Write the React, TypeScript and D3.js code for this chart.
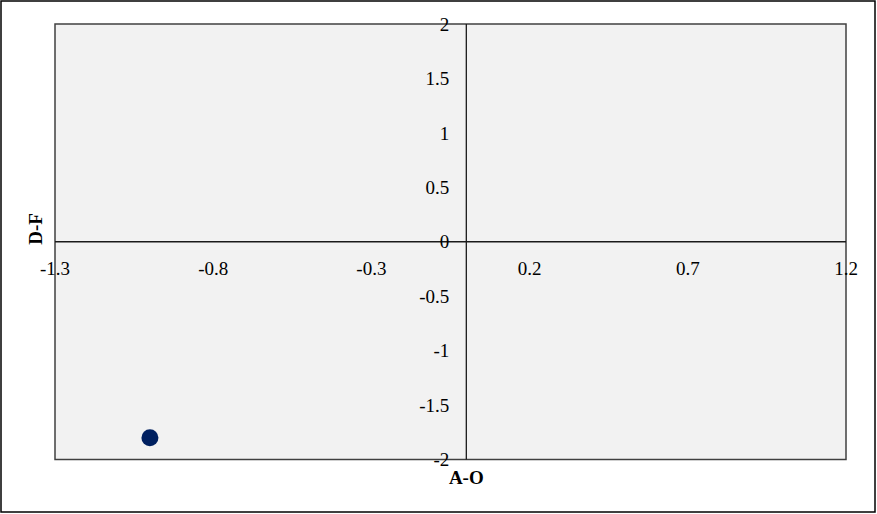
import React from "react";
import * as d3 from "d3";

const xTicks = [-1.3, -0.8, -0.3, 0.2, 0.7, 1.2];
const yTicks = [-2, -1.5, -1, -0.5, 0, 0.5, 1, 1.5, 2];
const pointsX = [-1.0];
const pointsY = [-1.8];
const xTitle = "A-O";
const yTitle = "D-F";

export default function App() {
  const W = 877, H = 514;
  const x = d3.scaleLinear().domain([-1.3, 1.2]).range([55, 846]);
  const y = d3.scaleLinear().domain([-2, 2]).range([459.5, 24]);
  const font = "'Liberation Serif', 'Times New Roman', serif";
  return (
    <svg width={W} height={H} style={{ position: "absolute", left: 0, top: 0 }} fontFamily={font}>
      <rect x={0} y={0} width={W} height={H} fill="#fff" />
      <rect x={1} y={1} width={W - 3} height={H - 3} fill="none" stroke="#000" strokeWidth={1.5} />
      <rect x={x(-1.3)} y={y(2)} width={x(1.2) - x(-1.3)} height={y(-2) - y(2)} fill="#f2f2f2" stroke="#404040" strokeWidth={1.5} />
      <line x1={x(0)} x2={x(0)} y1={y(2)} y2={y(-2)} stroke="#1a1a1a" strokeWidth={1.3} />
      <line x1={x(-1.3)} x2={x(1.2)} y1={y(0)} y2={y(0)} stroke="#1a1a1a" strokeWidth={1.3} />
      {yTicks.map((t) => (
        <text key={"y" + t} x={x(0) - 17} y={y(t)} dy="0.35em" textAnchor="end" fontSize={19} fill="#000">
          {String(t)}
        </text>
      ))}
      {xTicks.map((t) => (
        <text key={"x" + t} x={x(t)} y={y(0) + 33} textAnchor="middle" fontSize={19} fill="#000">
          {String(t)}
        </text>
      ))}
      {pointsX.map((px, i) => (
        <circle key={i} cx={x(px)} cy={y(pointsY[i])} r={8.5} fill="#002060" />
      ))}
      <text x={x(0)} y={484} textAnchor="middle" fontSize={19} fontWeight="bold" fill="#000">{xTitle}</text>
      <text transform={`translate(42,229) rotate(-90)`} textAnchor="middle" fontSize={19} fontWeight="bold" fill="#000">{yTitle}</text>
    </svg>
  );
}
